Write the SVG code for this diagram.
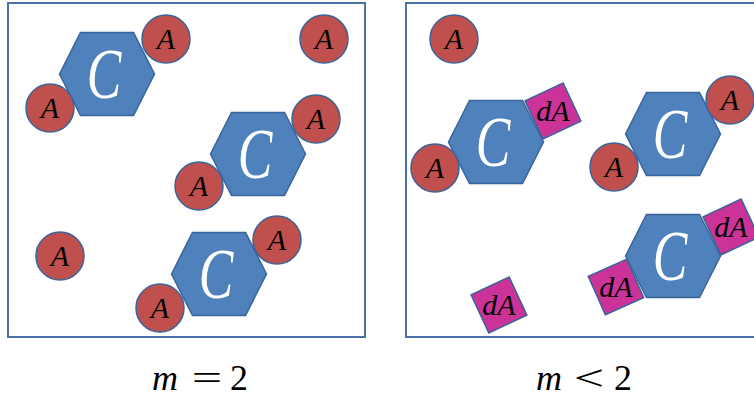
<svg xmlns="http://www.w3.org/2000/svg" width="754" height="398" viewBox="0 0 754 398">
<style>
.box{fill:#fff;stroke:#4A72A8;stroke-width:2}
.hex{fill:#4F81BD;stroke:#3A6499;stroke-width:1.5}
.a{fill:#C0504D;stroke:#3A6499;stroke-width:1.5}
.da{fill:#CC3399;stroke:#3A6499;stroke-width:1.5}
.tc{font-family:"Liberation Serif",serif;font-style:italic;font-size:72px;fill:#fff;text-anchor:middle}
.ta{font-family:"Liberation Serif",serif;font-style:italic;font-size:30px;fill:#000;text-anchor:middle}
.lbl{font-family:"Liberation Serif",serif;font-size:36px;fill:#000;text-anchor:middle}
.it{font-style:italic}
</style>
<defs>
<path id="hx" d="M-47.5,0 L-26.5,-41.5 L26.5,-41.5 L47.5,0 L26.5,41.5 L-26.5,41.5 Z"/>
</defs>
<rect class="box" x="8" y="3" width="357" height="334"/>
<rect class="box" x="406" y="3" width="354" height="334"/>
<g id="connectors"/>
<!-- left panel -->
<g id="hexL1" transform="translate(107,74)"><use href="#hx" class="hex"/><text class="tc" transform="translate(-3,24) scale(0.72,1)">C</text></g>
<g id="hexL2" transform="translate(258,154)"><use href="#hx" class="hex"/><text class="tc" transform="translate(-3,24) scale(0.72,1)">C</text></g>
<g id="hexL3" transform="translate(219,274)"><use href="#hx" class="hex"/><text class="tc" transform="translate(-3,24) scale(0.72,1)">C</text></g>
<g id="aL1" transform="translate(166,39)"><circle class="a" r="24"/><text class="ta" x="0" y="10">A</text></g>
<g id="aL2" transform="translate(50,108)"><circle class="a" r="24"/><text class="ta" x="0" y="10">A</text></g>
<g id="aL3" transform="translate(324,39)"><circle class="a" r="24"/><text class="ta" x="0" y="10">A</text></g>
<g id="aL4" transform="translate(316,119)"><circle class="a" r="24"/><text class="ta" x="0" y="10">A</text></g>
<g id="aL5" transform="translate(199,186)"><circle class="a" r="24"/><text class="ta" x="0" y="10">A</text></g>
<g id="aL6" transform="translate(60,256)"><circle class="a" r="24"/><text class="ta" x="0" y="10">A</text></g>
<g id="aL7" transform="translate(277,240)"><circle class="a" r="24"/><text class="ta" x="0" y="10">A</text></g>
<g id="aL8" transform="translate(160,308)"><circle class="a" r="24"/><text class="ta" x="0" y="10">A</text></g>
<!-- right panel -->
<g id="hexR1" transform="translate(496,142)"><use href="#hx" class="hex"/><text class="tc" transform="translate(-3,24) scale(0.72,1)">C</text></g>
<g id="hexR2" transform="translate(673,134)"><use href="#hx" class="hex"/><text class="tc" transform="translate(-3,24) scale(0.72,1)">C</text></g>
<g id="hexR3" transform="translate(673,256)"><use href="#hx" class="hex"/><text class="tc" transform="translate(-3,24) scale(0.72,1)">C</text></g>
<g id="aR1" transform="translate(454,39)"><circle class="a" r="24"/><text class="ta" x="0" y="10">A</text></g>
<g id="aR2" transform="translate(435,168)"><circle class="a" r="24"/><text class="ta" x="0" y="10">A</text></g>
<g id="aR3" transform="translate(730,100)"><circle class="a" r="24"/><text class="ta" x="0" y="10">A</text></g>
<g id="aR4" transform="translate(614,167)"><circle class="a" r="24"/><text class="ta" x="0" y="10">A</text></g>
<g id="daR1" transform="translate(553,111)"><rect class="da" x="-21" y="-21" width="42" height="42" transform="rotate(-25)"/><text class="ta" x="0" y="10">dA</text></g>
<g id="daR2" transform="translate(731,227)"><rect class="da" x="-21" y="-21" width="42" height="42" transform="rotate(-25)"/><text class="ta" x="0" y="10">dA</text></g>
<g id="daR3" transform="translate(616,287)"><rect class="da" x="-21" y="-21" width="42" height="42" transform="rotate(-24)"/><text class="ta" x="0" y="10">dA</text></g>
<g id="daR4" transform="translate(499,305)"><rect class="da" x="-21" y="-21" width="42" height="42" transform="rotate(-25)"/><text class="ta" x="0" y="10">dA</text></g>
<!-- labels -->
<g id="labelL">
<text class="lbl it" x="165" y="390">m</text>
<text class="lbl" transform="translate(207,390) scale(1.5,1)">=</text>
<text class="lbl" x="239" y="390">2</text>
</g>
<g id="labelR">
<text class="lbl it" x="549" y="390">m</text>
<text class="lbl" transform="translate(589,390) scale(1.5,1)">&lt;</text>
<text class="lbl" x="623" y="390">2</text>
</g>
</svg>
